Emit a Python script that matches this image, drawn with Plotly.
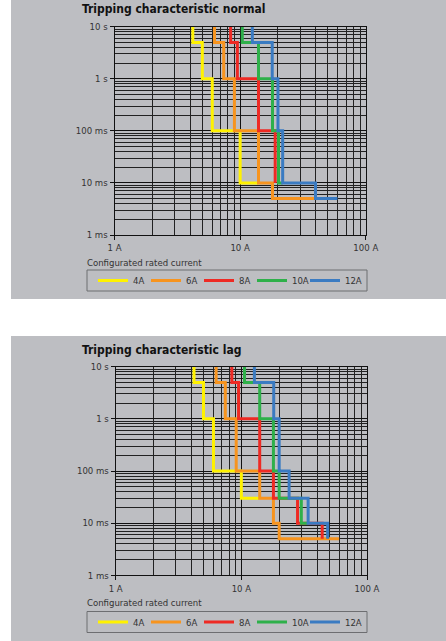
import plotly.graph_objects as go

W, H = 446, 641

# ---- data: step breakpoints (current in A, tripping time in s) ----
series_names = ["4A", "6A", "8A", "10A", "12A"]
series_colors = ["#FFF200", "#F7941E", "#EE2A24", "#2EB04A", "#3A7BC2"]

normal_current = [
    [4.2, 5.0, 6.0, 10, 14],
    [6.25, 7.4, 9.0, 14, 18.1, 40],
    [8.4, 9.5, 14, 19, 19],
    [10.4, 14, 18.1, 20.2, 21.8],
    [12.5, 18, 20, 21.8, 39.8, 59.5],
]
normal_time = [
    [10, 5, 1, 0.1, 0.01],
    [10, 5, 1, 0.1, 0.01, 0.005],
    [10, 5, 1, 0.1, 0.01],
    [10, 5, 1, 0.1, 0.01],
    [10, 5, 1, 0.1, 0.01, 0.005],
]

lag_current = [
    [4.2, 5.0, 6.0, 10, 14],
    [6.3, 7.45, 9.1, 14, 18, 20, 60],
    [8.4, 9.5, 14, 18, 28, 44, 44],
    [10.6, 14, 18, 20, 30, 34],
    [12.7, 18.1, 20, 24, 34, 48.6, 48.6],
]
lag_time = [
    [10, 5, 1, 0.1, 0.03],
    [10, 5, 1, 0.1, 0.03, 0.01, 0.005],
    [10, 5, 1, 0.1, 0.03, 0.01, 0.005],
    [10, 5, 1, 0.1, 0.03, 0.01],
    [10, 5, 1, 0.1, 0.03, 0.01, 0.005],
]

x_tickvals = [1, 10, 100]
x_ticktext = ["1 A", "10 A", "100 A"]
y_tickvals = [0.001, 0.01, 0.1, 1, 10]
y_ticktext = ["1 ms", "10 ms", "100 ms", "1 s", "10 s"]

titles = ["Tripping characteristic normal", "Tripping characteristic lag"]
legend_title = "Configurated rated current"

GRAY = "#BDBEC2"
FONT = "Liberation Sans Narrow, Arial Narrow, DejaVu Sans Condensed, sans-serif"


def px(x):
    return x / W


def py(y):
    return 1 - y / H


fig = go.Figure()

panels = [
    (normal_current, normal_time, "x", "y", "legend"),
    (lag_current, lag_time, "x2", "y2", "legend2"),
]
for cur, tim, xa, ya, lg in panels:
    for name, color, xs, ts in zip(series_names, series_colors, cur, tim):
        fig.add_trace(
            go.Scatter(
                x=xs,
                y=ts,
                mode="lines",
                line=dict(color=color, width=3, shape="vh"),
                name=name,
                xaxis=xa,
                yaxis=ya,
                legend=lg,
            )
        )
    # blank spacer entry so the last legend label isn't clipped
    fig.add_trace(
        go.Scatter(
            x=[None], y=[None], mode="lines", name=" ",
            line=dict(color="rgba(0,0,0,0)"),
            xaxis=xa, yaxis=ya, legend=lg, hoverinfo="skip",
        )
    )

minor_vals = []
for d in [0.001, 0.01, 0.1, 1, 10, 100]:
    minor_vals += [d * k for k in range(2, 10)]

axis_common = dict(
    type="log",
    automargin=False,
    showline=True,
    mirror=True,
    linecolor="#111",
    linewidth=1,
    showgrid=True,
    gridcolor="#111",
    gridwidth=1,
    zeroline=False,
    ticks="outside",
    ticklen=4,
    tickcolor="#111",
    tickfont=dict(family=FONT, size=9.5, color="#333"),
    minor=dict(tickmode="array", tickvals=minor_vals, showgrid=True,
               gridcolor="#222", gridwidth=0.9, ticks=""),
)

# panel geometry in pixels
geo = [
    dict(x0=114.5, x1=365.8, y0=26.7, y1=235.0, bg=(0, 299), title_y=9,
         leg_title_y=262, box=(270, 291)),
    dict(x0=115.7, x1=367.0, y0=366.7, y1=575.3, bg=(336, 641), title_y=350,
         leg_title_y=602.5, box=(611.5, 632.5)),
]

layout = dict(
    width=W,
    height=H,
    autosize=False,
    margin=dict(l=0, r=0, t=0, b=0, pad=0),
    paper_bgcolor="white",
    plot_bgcolor=GRAY,
    shapes=[],
    annotations=[],
)

for i, g in enumerate(geo):
    sx = "" if i == 0 else "2"
    layout["xaxis" + sx] = dict(
        axis_common,
        range=[0, 2],
        domain=[px(g["x0"]), px(g["x1"])],
        anchor="y" + sx,
        tickvals=x_tickvals,
        ticktext=x_ticktext,
    )
    layout["yaxis" + sx] = dict(
        axis_common,
        range=[-3, 1],
        domain=[py(g["y1"]), py(g["y0"])],
        anchor="x" + sx,
        tickvals=y_tickvals,
        ticktext=y_ticktext,
    )
    # gray panel background
    layout["shapes"].append(dict(
        type="rect", xref="paper", yref="paper", layer="below",
        x0=px(11), x1=1, y0=py(g["bg"][1]), y1=py(g["bg"][0]),
        fillcolor=GRAY, line=dict(width=0),
    ))
    # legend box
    layout["shapes"].append(dict(
        type="rect", xref="paper", yref="paper",
        x0=px(87), x1=px(367), y0=py(g["box"][1]), y1=py(g["box"][0]),
        line=dict(color="#6D6E71", width=1),
    ))
    layout["annotations"].append(dict(
        text="<b>" + titles[i] + "</b>", xref="paper", yref="paper",
        x=px(80), y=py(g["title_y"]), xanchor="left", yanchor="middle",
        showarrow=False, font=dict(family=FONT, size=12, color="#111"),
    ))
    layout["annotations"].append(dict(
        text=legend_title, xref="paper", yref="paper",
        x=px(85), y=py(g["leg_title_y"]), xanchor="left", yanchor="middle",
        showarrow=False, font=dict(family=FONT, size=9.5, color="#333"),
    ))
    layout["legend" + sx] = dict(
        orientation="h",
        x=px(93), y=py((g["box"][0] + g["box"][1]) / 2),
        xanchor="left", yanchor="middle",
        bgcolor="rgba(0,0,0,0)", borderwidth=0,
        font=dict(family=FONT, size=9.5, color="#333"),
        entrywidth=8, entrywidthmode="pixels",
        itemwidth=30,
    )

fig.update_layout(**layout)
fig.write_html(
    "out.html",
    config={"responsive": False, "displayModeBar": False},
    post_script="document.body.style.margin='0';"
    "document.documentElement.style.overflow='hidden';",
)
